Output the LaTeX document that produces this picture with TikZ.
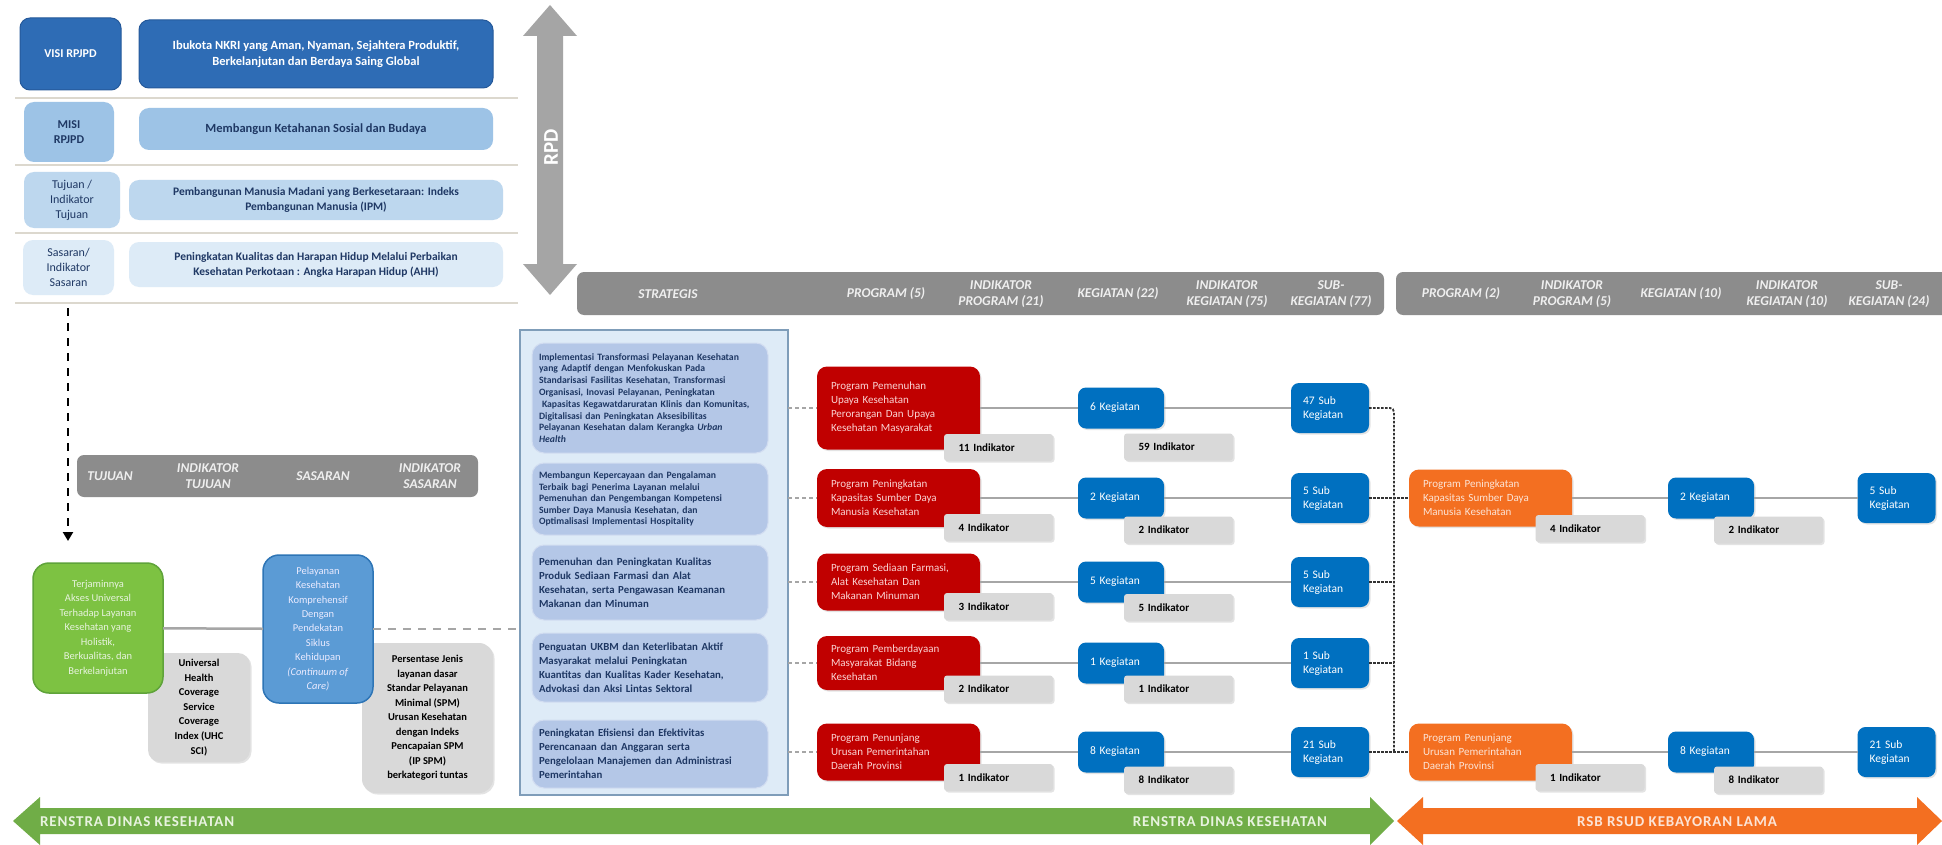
\documentclass[tikz,border=0pt]{standalone}
\usepackage{fontspec}
\setmainfont{Carlito}
\newfontfamily\spacedfont[LetterSpace=6]{Carlito}
\usetikzlibrary{shadows,arrows.meta}
\definecolor{visiblue}{HTML}{2E6CB5}
\definecolor{visiedge}{HTML}{25599A}
\definecolor{misiblue}{HTML}{9DC3E6}
\definecolor{tujblue}{HTML}{BDD7EE}
\definecolor{sasblue}{HTML}{DDEBF7}
\definecolor{navy}{HTML}{1F3864}
\definecolor{hdrgray}{HTML}{8C8C8C}
\definecolor{hdrtext}{HTML}{EFEFEF}
\definecolor{rpdgray}{HTML}{A5A5A5}
\definecolor{sepline}{HTML}{DCD8CE}
\definecolor{stratbg}{HTML}{DEEBF7}
\definecolor{stratbox}{HTML}{B4C7E7}
\definecolor{stratedge}{HTML}{7F9DB9}
\definecolor{progred}{HTML}{C00000}
\definecolor{progtext}{HTML}{FAD4D4}
\definecolor{kegblue}{HTML}{0070C0}
\definecolor{indgray}{HTML}{D9D9D9}
\definecolor{linegray}{HTML}{A6A6A6}
\definecolor{orng}{HTML}{F36F21}
\definecolor{orngtext}{HTML}{FCE4D6}
\definecolor{grn}{HTML}{70AD47}
\definecolor{grntext}{HTML}{E8F3DF}
\definecolor{ggreen}{HTML}{7DC242}
\definecolor{ggreenedge}{HTML}{5FA33A}
\definecolor{pblue}{HTML}{5B9BD5}
\definecolor{pblueedge}{HTML}{2E75B6}
\definecolor{dotcol}{HTML}{333333}
\newcommand\myfs[2]{\fontsize{#1}{#2}\selectfont}
\begin{document}
\begin{tikzpicture}[x=1pt,y=-1pt,
  base/.style={inner sep=0pt, outer sep=0pt},
  shad/.style={drop shadow={shadow xshift=1.5pt, shadow yshift=-1.5pt, opacity=.22}},
  lbl/.style={base, rounded corners=10pt, align=center, text=navy, font=\myfs{12}{15}\bfseries},
  hdr/.style={base, fill=hdrgray, rounded corners=7pt},
  hdrtxt/.style={base, align=center, text=hdrtext, font=\myfs{13.5}{15.5}\bfseries\itshape},
  strat/.style={base, fill=stratbox, draw=stratbox!60!white, line width=1pt, rounded corners=12pt, minimum width=236pt, text width=222pt, inner xsep=7pt, align=left, text=navy},
  prog/.style={base, shad, rounded corners=10pt, minimum width=163pt, text width=135pt, inner xsep=14pt, align=left, font=\myfs{11}{14}},
  ind/.style={base, shad, fill=indgray, rounded corners=3pt, minimum width=109pt, minimum height=27pt, text width=80pt, inner xsep=14.5pt, align=left, text=black, font=\myfs{11}{13}\bfseries},
  keg/.style={base, shad, fill=kegblue, rounded corners=8pt, minimum width=86pt, minimum height=41pt, text width=62pt, inner xsep=12pt, align=left, text=white, font=\myfs{11.5}{13}},
  sub/.style={base, shad, fill=kegblue, rounded corners=8pt, minimum width=78pt, minimum height=50pt, text width=54pt, inner xsep=12pt, align=left, text=white, font=\myfs{11.5}{14}},
  rowline/.style={linegray, line width=2.5pt},
  dashconn/.style={linegray, line width=1.6pt, dash pattern=on 4pt off 3pt},
  dotconn/.style={dotcol, line width=1.8pt, dash pattern=on 2.5pt off 1.5pt},
  arrtxt/.style={base, font=\spacedfont\myfs{15}{17}\bfseries}
]
\useasboundingbox (0,0) rectangle (1942,845);
\fill[white] (0,0) rectangle (1942,845);

% ---------- top-left RPJPD block ----------
\draw[sepline, line width=1.2pt] (15,98) -- (518,98);
\draw[sepline, line width=1.2pt] (15,165) -- (518,165);
\draw[sepline, line width=1.2pt] (15,233) -- (518,233);
\draw[sepline, line width=1.2pt] (15,303) -- (518,303);

\node[lbl, fill=visiblue, draw=visiedge, line width=1pt, text=white, minimum width=101pt, minimum height=72pt] (visiL) at (70.5,54) {VISI RPJPD};
\node[lbl, fill=visiblue, draw=visiedge, line width=1pt, text=white, font=\myfs{12.5}{15.5}\bfseries, minimum width=354pt, minimum height=68pt] (visiT) at (316,54) {Ibukota NKRI yang Aman, Nyaman, Sejahtera Produktif,\\Berkelanjutan dan Berdaya Saing Global};
\node[lbl, fill=misiblue, minimum width=90pt, minimum height=60pt] (misiL) at (69,132) {MISI\\RPJPD};
\node[lbl, fill=misiblue, font=\myfs{12.5}{15}\bfseries, minimum width=354pt, minimum height=42pt] (misiT) at (316,129) {Membangun Ketahanan Sosial dan Budaya};
\node[lbl, fill=tujblue, font=\myfs{12}{15}, minimum width=96pt, minimum height=56pt] (tujL) at (72,200) {Tujuan /\\Indikator\\Tujuan};
\node[lbl, fill=tujblue, font=\myfs{11.5}{15}\bfseries, minimum width=374pt, minimum height=40pt] (tujT) at (316,200) {Pembangunan Manusia Madani yang Berkesetaraan: Indeks\\Pembangunan Manusia (IPM)};
\node[lbl, fill=sasblue, font=\myfs{12}{15}, minimum width=91pt, minimum height=55pt] (sasL) at (68.5,267.5) {Sasaran/\\Indikator\\Sasaran};
\node[lbl, fill=sasblue, font=\myfs{11.5}{15}\bfseries, minimum width=374pt, minimum height=45pt] (sasT) at (316,264.5) {Peningkatan Kualitas dan Harapan Hidup Melalui Perbaikan\\Kesehatan Perkotaan : Angka Harapan Hidup (AHH)};

% RPD double arrow
\fill[rpdgray] (550,5) -- (577,36) -- (563,36) -- (563,264) -- (577,264) -- (550,295) -- (523,264) -- (537,264) -- (537,36) -- (523,36) -- cycle;
\node[base, rotate=90, text=white, font=\myfs{21}{23}\bfseries] (rpd) at (551,147) {RPD};

% dashed down arrow
\coordinate (dvtop) at (68,308);
\coordinate (dvbot) at (68,541);
\draw[black, line width=2.6pt, dash pattern=on 8pt off 7pt, -{Triangle[width=10pt,length=9pt]}] (dvtop) -- (dvbot);

% ---------- left header ----------
\node[hdr, minimum width=401pt, minimum height=42pt] (hdrL) at (277.5,476) {};
\node[hdrtxt] (hl1) at (110,476) {TUJUAN};
\node[hdrtxt] (hl2) at (208,476) {INDIKATOR\\TUJUAN};
\node[hdrtxt] (hl3) at (323,476) {SASARAN};
\node[hdrtxt] (hl4) at (430,476) {INDIKATOR\\SASARAN};

% ---------- tujuan / sasaran boxes ----------
\node[base, shad, fill=indgray, rounded corners=12pt, minimum width=102pt, minimum height=109pt, align=center, text=black, font=\myfs{10.5}{14.6}\bfseries] (uhc) at (199,707.5) {Universal\\Health\\Coverage\\Service\\Coverage\\Index (UHC\\SCI)};
\node[base, shad, fill=indgray, rounded corners=14pt, minimum width=131pt, minimum height=150pt, align=center, text=black, font=\myfs{10.5}{14.5}\bfseries] (pe) at (427.5,718) {Persentase Jenis\\layanan dasar\\Standar Pelayanan\\Minimal (SPM)\\Urusan Kesehatan\\dengan Indeks\\Pencapaian SPM\\(IP SPM)\\berkategori tuntas};
\node[base, fill=ggreen, draw=ggreenedge, line width=1.5pt, rounded corners=16pt, minimum width=130pt, minimum height=130pt, align=center, text=grntext, font=\myfs{10.5}{14.5}] (g) at (98,628) {Terjaminnya\\Akses Universal\\Terhadap Layanan\\Kesehatan yang\\Holistik,\\Berkualitas, dan\\Berkelanjutan};
\node[base, fill=pblue, draw=pblueedge, line width=1.5pt, rounded corners=16pt, minimum width=110pt, minimum height=148pt, align=center, text=white!92!blue, font=\myfs{10.5}{14.4}] (b) at (318,629) {Pelayanan\\Kesehatan\\Komprehensif\\Dengan\\Pendekatan\\Siklus\\Kehidupan\\\textit{(Continuum of}\\\textit{Care)}};

% ---------- strategy container ----------
\node[base, fill=stratbg, draw=stratedge, line width=1.5pt, minimum width=268pt, minimum height=465pt] (cont) at (654,562.5) {};
\node[strat, minimum height=110pt, font=\myfs{9.7}{11.8}\bfseries] (st1) at (650,398) {Implementasi Transformasi Pelayanan Kesehatan\\yang Adaptif dengan Menfokuskan Pada\\Standarisasi Fasilitas Kesehatan, Transformasi\\Organisasi, Inovasi Pelayanan, Peningkatan\\\hspace*{3pt}Kapasitas Kegawatdaruratan Klinis dan Komunitas,\\Digitalisasi dan Peningkatan Aksesibilitas\\Pelayanan Kesehatan dalam Kerangka \textit{Urban}\\\textit{Health}};
\node[strat, minimum height=72pt, font=\myfs{9.7}{11.6}\bfseries] (st2) at (650,499) {Membangun Kepercayaan dan Pengalaman\\Terbaik bagi Penerima Layanan melalui\\Pemenuhan dan Pengembangan Kompetensi\\Sumber Daya Manusia Kesehatan, dan\\Optimalisasi Implementasi Hospitality};
\node[strat, minimum height=75pt, font=\myfs{10.8}{14}\bfseries] (st3) at (650,582.5) {Pemenuhan dan Peningkatan Kualitas\\Produk Sediaan Farmasi dan Alat\\Kesehatan, serta Pengawasan Keamanan\\Makanan dan Minuman};
\node[strat, minimum height=69pt, font=\myfs{10.8}{14}\bfseries] (st4) at (650,667.5) {Penguatan UKBM dan Keterlibatan Aktif\\Masyarakat melalui Peningkatan\\Kuantitas dan Kualitas Kader Kesehatan,\\Advokasi dan Aksi Lintas Sektoral};
\node[strat, minimum height=68pt, font=\myfs{10.8}{14}\bfseries] (st5) at (650,754) {Peningkatan Efisiensi dan Efektivitas\\Perencanaan dan Anggaran serta\\Pengelolaan Manajemen dan Administrasi\\Pemerintahan};

% ---------- top headers ----------
\node[hdr, minimum width=807pt, minimum height=43pt] (hdrT) at (980.5,293.5) {};
\node[hdrtxt] (ht0) at (668,294) {STRATEGIS};
\node[hdrtxt] (ht1) at (886,294) {PROGRAM (5)};
\node[hdrtxt] (ht2) at (1001,294) {INDIKATOR\\PROGRAM (21)};
\node[hdrtxt] (ht3) at (1118,294) {KEGIATAN (22)};
\node[hdrtxt] (ht4) at (1227,294) {INDIKATOR\\KEGIATAN (75)};
\node[hdrtxt] (ht5) at (1331,294) {SUB-\\KEGIATAN (77)};
\node[hdr, minimum width=570pt, minimum height=43pt] (hdrR) at (1681,293.5) {};
\node[hdrtxt] (hr1) at (1461,294) {PROGRAM (2)};
\node[hdrtxt] (hr2) at (1572,294) {INDIKATOR\\PROGRAM (5)};
\node[hdrtxt] (hr3) at (1681,294) {KEGIATAN (10)};
\node[hdrtxt] (hr4) at (1787,294) {INDIKATOR\\KEGIATAN (10)};
\node[hdrtxt] (hr5) at (1889,294) {SUB-\\KEGIATAN (24)};

% ---------- program rows ----------
\node[prog, fill=progred, text=progtext, minimum height=83pt] (p1) at (898.5,408) {Program Pemenuhan\\Upaya Kesehatan\\Perorangan Dan Upaya\\Kesehatan Masyarakat};
\node[prog, fill=progred, text=progtext, minimum height=58pt] (p2) at (898.5,498) {Program Peningkatan\\Kapasitas Sumber Daya\\Manusia Kesehatan};
\node[prog, fill=progred, text=progtext, minimum height=57pt] (p3) at (898.5,582) {Program Sediaan Farmasi,\\Alat Kesehatan Dan\\Makanan Minuman};
\node[prog, fill=progred, text=progtext, minimum height=54pt] (p4) at (898.5,663) {Program Pemberdayaan\\Masyarakat Bidang\\Kesehatan};
\node[prog, fill=progred, text=progtext, minimum height=57pt] (p5) at (898.5,752) {Program Penunjang\\Urusan Pemerintahan\\Daerah Provinsi};

\node[ind] (pi1) at (998.5,447.5) {11 Indikator};
\node[ind] (pi2) at (998.5,527.5) {4 Indikator};
\node[ind] (pi3) at (998.5,606.5) {3 Indikator};
\node[ind] (pi4) at (998.5,689) {2 Indikator};
\node[ind] (pi5) at (998.5,777.5) {1 Indikator};

\node[keg] (k1) at (1121,408) {6 Kegiatan};
\node[keg] (k2) at (1121,498) {2 Kegiatan};
\node[keg] (k3) at (1121,582) {5 Kegiatan};
\node[keg] (k4) at (1121,663) {1 Kegiatan};
\node[keg] (k5) at (1121,752) {8 Kegiatan};

\node[ind] (ki1) at (1178.5,447) {59 Indikator};
\node[ind] (ki2) at (1178.5,530) {2 Indikator};
\node[ind] (ki3) at (1178.5,607.5) {5 Indikator};
\node[ind] (ki4) at (1178.5,689) {1 Indikator};
\node[ind] (ki5) at (1178.5,780) {8 Indikator};

\node[sub] (s1) at (1330,408) {47 Sub\\Kegiatan};
\node[sub] (s2) at (1330,498) {5 Sub\\Kegiatan};
\node[sub] (s3) at (1330,582) {5 Sub\\Kegiatan};
\node[sub] (s4) at (1330,663) {1 Sub\\Kegiatan};
\node[sub] (s5) at (1330,752) {21 Sub\\Kegiatan};

% ---------- RSUD rows ----------
\node[prog, fill=orng, text=orngtext, minimum height=57pt] (o2) at (1490.5,498) {Program Peningkatan\\Kapasitas Sumber Daya\\Manusia Kesehatan};
\node[prog, fill=orng, text=orngtext, minimum height=57pt] (o5) at (1490.5,752) {Program Penunjang\\Urusan Pemerintahan\\Daerah Provinsi};
\node[ind] (oi2) at (1590,528.5) {4 Indikator};
\node[ind] (oi5) at (1590,777.5) {1 Indikator};
\node[keg] (ok2) at (1711,498) {2 Kegiatan};
\node[keg] (ok5) at (1711,752) {8 Kegiatan};
\node[ind] (oki2) at (1768.5,530) {2 Indikator};
\node[ind] (oki5) at (1768.5,780) {8 Indikator};
\node[sub] (os2) at (1896.5,498) {5 Sub\\Kegiatan};
\node[sub] (os5) at (1896.5,752) {21 Sub\\Kegiatan};

% ---------- connectors ----------
\draw[rowline] (g) -- (b);
\draw[linegray, line width=1.8pt, dash pattern=on 8pt off 7pt] (b.east) -- (cont.west |- b.east);

\foreach \i in {1,...,5} {
  \draw[dashconn] (cont.east |- p\i.west) -- (p\i.west);
  \draw[rowline] (p\i) -- (k\i);
  \draw[rowline] (k\i) -- (s\i);
}
\draw[rowline] (o2) -- (ok2);
\draw[rowline] (ok2) -- (os2);
\draw[rowline] (o5) -- (ok5);
\draw[rowline] (ok5) -- (os5);

\coordinate (bus1) at (1394,408);
\coordinate (bus5) at (1394,752);
\draw[dotconn, rounded corners=4pt] (s1.east) -- (bus1) -- (bus5);
\draw[dotconn] (s2.east) -- (o2.west);
\draw[dotconn] (s3.east) -- (s3.east -| bus1);
\draw[dotconn] (s4.east) -- (s4.east -| bus1);
\draw[dotconn] (s5.east) -- (o5.west);

% ---------- bottom arrows ----------
\fill[grn] (13,821) -- (40,797) -- (40,808) -- (1370,808) -- (1370,797) -- (1394,821) -- (1370,845) -- (1370,834) -- (40,834) -- (40,845) -- cycle;
\fill[orng] (1397,821) -- (1423,797) -- (1423,808) -- (1917,808) -- (1917,797) -- (1942,821) -- (1917,845) -- (1917,834) -- (1423,834) -- (1423,845) -- cycle;
\node[arrtxt, text=grntext, anchor=west] (gt1) at (40,822) {RENSTRA DINAS KESEHATAN};
\node[arrtxt, text=grntext, anchor=east] (gt2) at (1327,822) {RENSTRA DINAS KESEHATAN};
\node[arrtxt, text=orngtext] (ot) at (1677,822) {RSB RSUD KEBAYORAN LAMA};
\end{tikzpicture}
\end{document}
